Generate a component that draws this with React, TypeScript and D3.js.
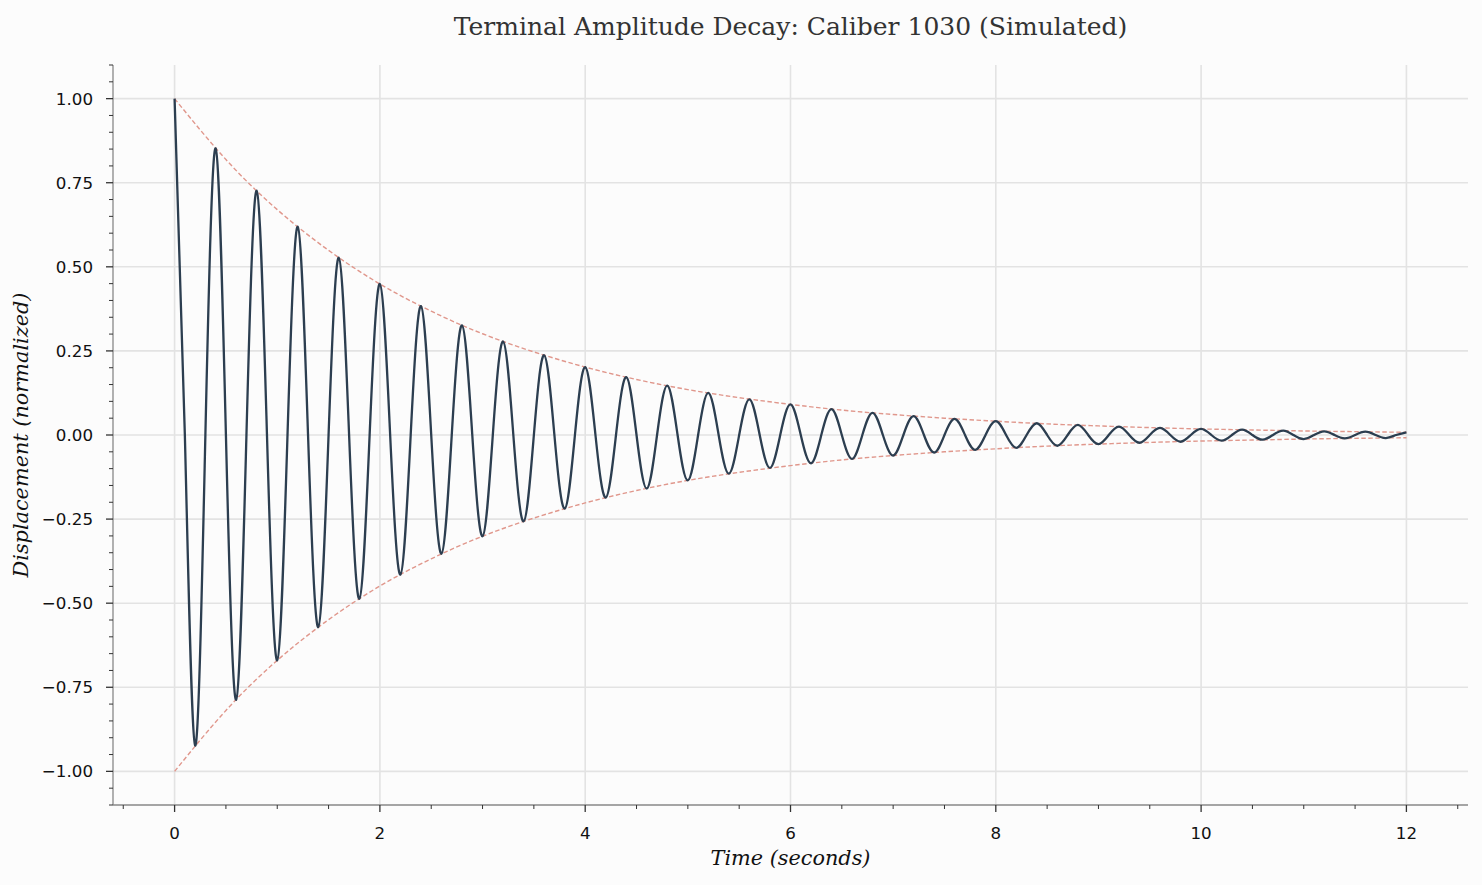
import React from "react";
import * as d3 from "d3";

// ---------- data ----------
const sampleTimes = [
  0, 0.1, 0.2, 0.3, 0.4, 0.5, 0.6, 0.7, 0.8, 0.9,
  1.0, 1.1, 1.2, 1.3, 1.4, 1.5, 1.6, 1.7, 1.8, 1.9,
  2.0, 2.1, 2.2, 2.3, 2.4, 2.5, 2.6, 2.7, 2.8, 2.9,
  3.0, 3.1, 3.2, 3.3, 3.4, 3.5, 3.6, 3.7, 3.8, 3.9,
  4.0, 4.1, 4.2, 4.3, 4.4, 4.5, 4.6, 4.7, 4.8, 4.9,
  5.0, 5.1, 5.2, 5.3, 5.4, 5.5, 5.6, 5.7, 5.8, 5.9,
  6.0, 6.1, 6.2, 6.3, 6.4, 6.5, 6.6, 6.7, 6.8, 6.9,
  7.0, 7.1, 7.2, 7.3, 7.4, 7.5, 7.6, 7.7, 7.8, 7.9,
  8.0, 8.1, 8.2, 8.3, 8.4, 8.5, 8.6, 8.7, 8.8, 8.9,
  9.0, 9.1, 9.2, 9.3, 9.4, 9.5, 9.6, 9.7, 9.8, 9.9,
  10.0, 10.1, 10.2, 10.3, 10.4, 10.5, 10.6, 10.7, 10.8, 10.9,
  11.0, 11.1, 11.2, 11.3, 11.4, 11.5, 11.6, 11.7, 11.8, 11.9,
  12.0,
];

const displacement = [
  1.0, 0, -0.923, 0, 0.852, 0, -0.787, 0, 0.726, 0,
  -0.67, 0, 0.619, 0, -0.571, 0, 0.527, 0, -0.487, 0,
  0.449, 0, -0.415, 0, 0.383, 0, -0.353, 0, 0.326, 0,
  -0.301, 0, 0.278, 0, -0.257, 0, 0.237, 0, -0.219, 0,
  0.202, 0, -0.186, 0, 0.172, 0, -0.159, 0, 0.147, 0,
  -0.135, 0, 0.125, 0, -0.115, 0, 0.106, 0, -0.098, 0,
  0.091, 0, -0.084, 0, 0.077, 0, -0.071, 0, 0.066, 0,
  -0.061, 0, 0.056, 0, -0.052, 0, 0.048, 0, -0.044, 0,
  0.041, 0, -0.038, 0, 0.035, 0, -0.032, 0, 0.03, 0,
  -0.027, 0, 0.025, 0, -0.023, 0, 0.021, 0, -0.02, 0,
  0.018, 0, -0.017, 0, 0.016, 0, -0.014, 0, 0.013, 0,
  -0.012, 0, 0.011, 0, -0.01, 0, 0.01, 0, -0.009, 0,
  0.008,
];

const envelopeTimes = [
  0, 0.5, 1, 1.5, 2, 2.5, 3, 3.5, 4, 4.5, 5, 5.5, 6, 6.5, 7, 7.5, 8, 8.5,
  9, 9.5, 10, 10.5, 11, 11.5, 12,
];
const envelopeUpper = [
  1.0, 0.819, 0.67, 0.549, 0.449, 0.368, 0.301, 0.247, 0.202, 0.165, 0.135,
  0.111, 0.091, 0.074, 0.061, 0.05, 0.041, 0.033, 0.027, 0.022, 0.018, 0.015,
  0.012, 0.01, 0.008,
];
const envelopeLower = [
  -1.0, -0.819, -0.67, -0.549, -0.449, -0.368, -0.301, -0.247, -0.202, -0.165,
  -0.135, -0.111, -0.091, -0.074, -0.061, -0.05, -0.041, -0.033, -0.027,
  -0.022, -0.018, -0.015, -0.012, -0.01, -0.008,
];

const xTicks = [0, 2, 4, 6, 8, 10, 12];
const xTickLabels = ["0", "2", "4", "6", "8", "10", "12"];
const yTicks = [-1.0, -0.75, -0.5, -0.25, 0, 0.25, 0.5, 0.75, 1.0];
const yTickLabels = ["−1.00", "−0.75", "−0.50", "−0.25", "0.00", "0.25", "0.50", "0.75", "1.00"];

const titleText = "Terminal Amplitude Decay: Caliber 1030 (Simulated)";
const xLabelText = "Time (seconds)";
const yLabelText = "Displacement (normalized)";

// ---------- layout ----------
const W = 1482;
const H = 885;
const L = 113;
const R = 1468;
const T = 65;
const B = 805;

export default function App() {
  const x = d3.scaleLinear().domain([-0.6, 12.6]).range([L, R]);
  const y = d3.scaleLinear().domain([-1.1, 1.1]).range([B, T]);

  const signal = sampleTimes.map((t, i) => [t, displacement[i]] as [number, number]);
  const upper = envelopeTimes.map((t, i) => [t, envelopeUpper[i]] as [number, number]);
  const lower = envelopeTimes.map((t, i) => [t, envelopeLower[i]] as [number, number]);

  const line = d3
    .line<[number, number]>()
    .x((d) => x(d[0]))
    .y((d) => y(d[1]))
    .curve(d3.curveNatural);

  const xMinor = d3.range(-0.5, 12.51, 0.5).filter((v) => Math.abs(v / 2 - Math.round(v / 2)) > 1e-6);
  const yMinor = d3
    .range(-1.1, 1.1001, 0.05)
    .map((v) => Math.round(v * 100) / 100)
    .filter((v) => Math.abs(v / 0.25 - Math.round(v / 0.25)) > 1e-6);

  const tickFont = "'DejaVu Sans', sans-serif";
  const serif = "'DejaVu Serif', serif";

  return (
    <div style={{ position: "absolute", left: 0, top: 0 }}>
      <svg width={W} height={H} style={{ display: "block", background: "#fcfcfc" }}>
        <rect x={0} y={0} width={W} height={H} fill="#fcfcfc" />
        {/* grid */}
        <g>
          {xTicks.map((t) => (
            <line key={"gx" + t} x1={x(t)} x2={x(t)} y1={T} y2={B} stroke="#e3e3e3" strokeWidth={1.6} />
          ))}
          {yTicks.map((t) => (
            <line key={"gy" + t} x1={L} x2={R} y1={y(t)} y2={y(t)} stroke="#e3e3e3" strokeWidth={1.6} />
          ))}
        </g>
        {/* envelopes */}
        <path d={line(upper) || ""} fill="none" stroke="#e0978c" strokeWidth={1.4} strokeDasharray="4.5,2.5" />
        <path d={line(lower) || ""} fill="none" stroke="#e0978c" strokeWidth={1.4} strokeDasharray="4.5,2.5" />
        {/* signal */}
        <path d={line(signal) || ""} fill="none" stroke="#2c3e50" strokeWidth={2.3} strokeLinejoin="round" />
        {/* spines */}
        <line x1={L} x2={L} y1={T} y2={B} stroke="#888" strokeWidth={1.3} />
        <line x1={L} x2={R} y1={B} y2={B} stroke="#888" strokeWidth={1.3} />
        {/* x ticks */}
        {xTicks.map((t, i) => (
          <g key={"xt" + t}>
            <line x1={x(t)} x2={x(t)} y1={B} y2={B + 7} stroke="#333" strokeWidth={1.3} />
            <text x={x(t)} y={839} textAnchor="middle" fontFamily={tickFont} fontSize={16.7} fill="#111">
              {xTickLabels[i]}
            </text>
          </g>
        ))}
        {xMinor.map((t) => (
          <line key={"xm" + t} x1={x(t)} x2={x(t)} y1={B} y2={B + 4} stroke="#333" strokeWidth={1} />
        ))}
        {/* y ticks */}
        {yTicks.map((t, i) => (
          <g key={"yt" + t}>
            <line x1={L - 7} x2={L} y1={y(t)} y2={y(t)} stroke="#333" strokeWidth={1.3} />
            <text x={93} y={y(t)} dy="0.36em" textAnchor="end" fontFamily={tickFont} fontSize={16.7} fill="#111">
              {yTickLabels[i]}
            </text>
          </g>
        ))}
        {yMinor.map((t) => (
          <line key={"ym" + t} x1={L - 4} x2={L} y1={y(t)} y2={y(t)} stroke="#333" strokeWidth={1} />
        ))}
        {/* labels */}
        <text x={(L + R) / 2} y={34.5} textAnchor="middle" fontFamily={serif} fontSize={25} fill="#333">
          {titleText}
        </text>
        <text x={(L + R) / 2} y={865} textAnchor="middle" fontFamily={serif} fontStyle="italic" fontSize={20.8} fill="#111">
          {xLabelText}
        </text>
        <text
          transform={`translate(28, ${(T + B) / 2}) rotate(-90)`}
          textAnchor="middle"
          fontFamily={serif}
          fontStyle="italic"
          fontSize={20.8}
          fill="#111"
        >
          {yLabelText}
        </text>
      </svg>
    </div>
  );
}
